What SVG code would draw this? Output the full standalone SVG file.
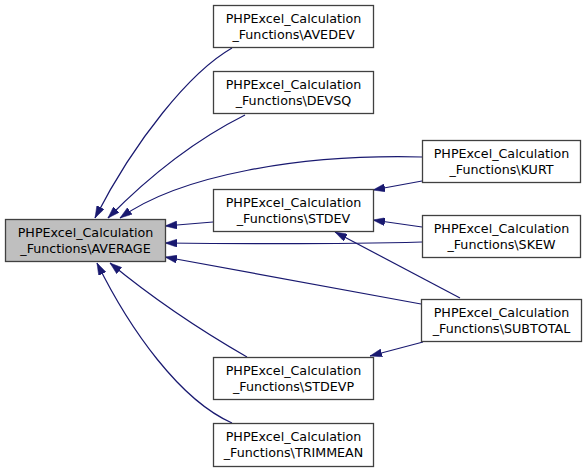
<svg xmlns="http://www.w3.org/2000/svg" width="587" height="472" viewBox="0 0 587 472">
<style>
.n rect{fill:#fff;stroke:#404040;stroke-width:1.3}
.n.h rect{fill:#bfbfbf}
.n text{font-family:"DejaVu Sans",sans-serif;font-size:12.7px;fill:#000;text-anchor:middle}
.e path{fill:none;stroke:#191970;stroke-width:1.2;marker-end:url(#ah)}
</style>
<defs>
<marker id="ah" viewBox="0 0 12 8" refX="12" refY="4" markerWidth="12" markerHeight="8" markerUnits="userSpaceOnUse" orient="auto">
<path d="M0,0 L12,4 L0,8 Z" fill="#191970" stroke="#191970" stroke-width="0.5"/>
</marker>
</defs>
<rect width="587" height="472" fill="#fff"/>
<g class="e" id="edges">
<path d="M232,48 C190,72 135,140 95,218"/>
<path d="M245,115 C215,130 165,160 108,218"/>
<path d="M422,157 C300,154 180,175 120,218"/>
<path d="M213,222 L165,226"/>
<path d="M422,242 C350,244 250,244 165,243"/>
<path d="M421,304 L165,257"/>
<path d="M247,357 C200,330 150,296 110,263"/>
<path d="M232,423 C180,400 130,330 97,263"/>
<path d="M422,181 L373,190"/>
<path d="M422,227 L373,220"/>
<path d="M460,298 L335,232"/>
<path d="M423,342 L370,356"/>
</g>
<g class="n h" id="AVERAGE"><rect x="5.5" y="219.5" width="160" height="42"/><text x="85.5" y="236.5">PHPExcel_Calculation</text><text x="85.5" y="252.5">_Functions\AVERAGE</text></g>
<g class="n" id="AVEDEV"><rect x="213.5" y="5.5" width="160" height="42"/><text x="293.5" y="22.5">PHPExcel_Calculation</text><text x="293.5" y="38.5">_Functions\AVEDEV</text></g>
<g class="n" id="DEVSQ"><rect x="213.5" y="71.5" width="160" height="42"/><text x="293.5" y="88.5">PHPExcel_Calculation</text><text x="293.5" y="104.5">_Functions\DEVSQ</text></g>
<g class="n" id="STDEV"><rect x="213.5" y="189.5" width="160" height="42"/><text x="293.5" y="206.5">PHPExcel_Calculation</text><text x="293.5" y="222.5">_Functions\STDEV</text></g>
<g class="n" id="KURT"><rect x="422.5" y="140.5" width="158" height="42"/><text x="501.5" y="157.5">PHPExcel_Calculation</text><text x="501.5" y="173.5">_Functions\KURT</text></g>
<g class="n" id="SKEW"><rect x="422.5" y="215.5" width="158" height="42"/><text x="501.5" y="232.5">PHPExcel_Calculation</text><text x="501.5" y="248.5">_Functions\SKEW</text></g>
<g class="n" id="SUBTOTAL"><rect x="421.5" y="299.5" width="160" height="42"/><text x="501.5" y="316.5">PHPExcel_Calculation</text><text x="501.5" y="332.5">_Functions\SUBTOTAL</text></g>
<g class="n" id="STDEVP"><rect x="213.5" y="357.5" width="160" height="42"/><text x="293.5" y="374.5">PHPExcel_Calculation</text><text x="293.5" y="390.5">_Functions\STDEVP</text></g>
<g class="n" id="TRIMMEAN"><rect x="213.5" y="423.5" width="160" height="43"/><text x="293.5" y="440.5">PHPExcel_Calculation</text><text x="293.5" y="456.5">_Functions\TRIMMEAN</text></g>
</svg>
